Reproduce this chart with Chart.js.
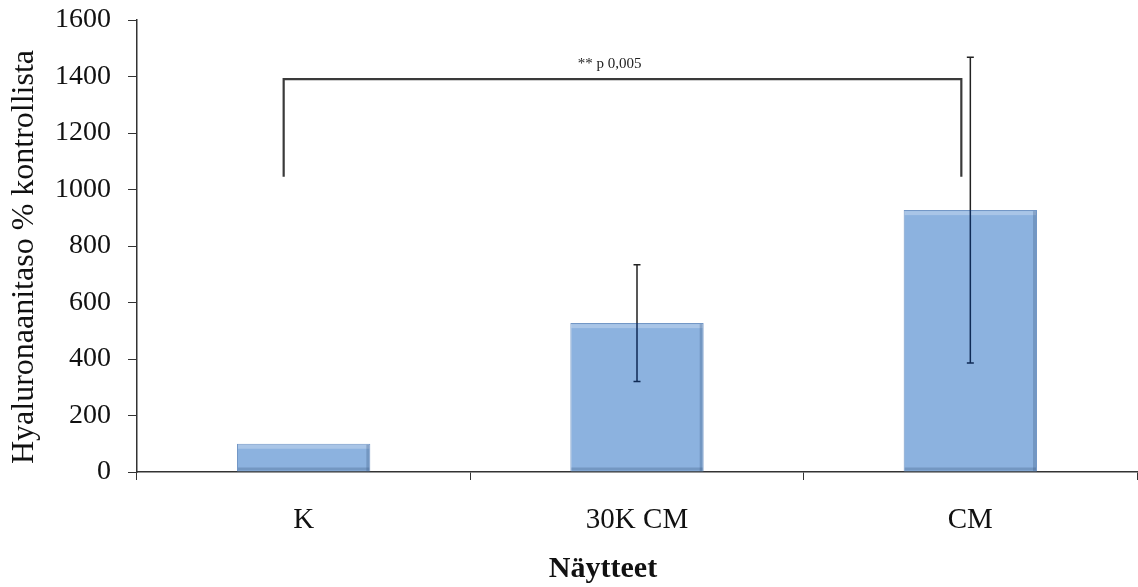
<!DOCTYPE html>
<html>
<head>
<meta charset="utf-8">
<script src="https://cdn.jsdelivr.net/npm/chart.js@4"></script>
<style>
  html, body { margin: 0; padding: 0; background: #ffffff; }
  #wrap { width: 1138px; height: 587px; }
</style>
</head>
<body>
<div id="wrap"><canvas id="c" width="1138" height="587"></canvas></div>
<script>
// ---- data ----
const categories = ['K', '30K CM', 'CM'];
const means = [100, 527, 927];
const errors = [0, 207, 541];
const yTicks = [0, 200, 400, 600, 800, 1000, 1200, 1400, 1600];
const yTitle = 'Hyaluronaanitaso % kontrollista';
const xTitle = 'Näytteet';
// significance bracket: category positions and value levels
const bracketX = [-0.06, 1.973];
const bracketY = [1045, 1391];
const bracketLabel = '** p 0,005';
const bracketLabelPos = [0.918, 1430];

const serif = '"Liberation Serif", "Times New Roman", serif';

const errorBarPlugin = {
  id: 'errorBars',
  afterDatasetsDraw(chart) {
    const ctx = chart.ctx;
    const meta = chart.getDatasetMeta(0);
    const y = chart.scales.y;
    // bevel on bars
    meta.data.forEach((bar) => {
      const l = bar.x - bar.width / 2, r = bar.x + bar.width / 2;
      const t = bar.y, b = bar.base;
      ctx.save();
      ctx.fillStyle = 'rgba(255,255,255,0.25)';
      ctx.fillRect(l + 1, t + 1, r - l - 2, 4);
      ctx.fillStyle = 'rgba(60,90,130,0.3)';
      ctx.fillRect(r - 4, t + 1, 3, b - t - 1);
      ctx.fillRect(l + 1, b - 4, r - l - 2, 3);
      ctx.restore();
    });
    meta.data.forEach((bar, i) => {
      const e = errors[i];
      if (!e) return;
      const x = bar.x;
      const yTop = y.getPixelForValue(means[i] + e);
      const yBot = y.getPixelForValue(means[i] - e);
      const yMid = y.getPixelForValue(means[i]);
      ctx.save();
      ctx.lineWidth = 1.5;
      ctx.strokeStyle = '#222';
      ctx.beginPath();
      ctx.moveTo(x, yTop); ctx.lineTo(x, yMid);
      ctx.moveTo(x - 3.5, yTop); ctx.lineTo(x + 3.5, yTop);
      ctx.stroke();
      ctx.strokeStyle = '#0f2a55';
      ctx.beginPath();
      ctx.moveTo(x, yMid); ctx.lineTo(x, yBot);
      ctx.moveTo(x - 3.5, yBot); ctx.lineTo(x + 3.5, yBot);
      ctx.stroke();
      ctx.restore();
    });
    // bracket
    const xs = chart.scales.x;
    const x1 = xs.getPixelForValue(bracketX[0]);
    const x2 = xs.getPixelForValue(bracketX[1]);
    const yb = y.getPixelForValue(bracketY[0]);
    const yt = y.getPixelForValue(bracketY[1]);
    ctx.save();
    ctx.strokeStyle = '#3a3a3a';
    ctx.lineWidth = 2.2;
    ctx.beginPath();
    ctx.moveTo(x1, yb); ctx.lineTo(x1, yt); ctx.lineTo(x2, yt); ctx.lineTo(x2, yb);
    ctx.stroke();
    ctx.fillStyle = '#222';
    ctx.font = '15px ' + serif;
    ctx.textAlign = 'center';
    ctx.textBaseline = 'alphabetic';
    ctx.fillText(bracketLabel, xs.getPixelForValue(bracketLabelPos[0]), y.getPixelForValue(bracketLabelPos[1]));
    // x axis title
    ctx.font = 'bold 30px ' + serif;
    ctx.fillStyle = '#111';
    ctx.fillText(xTitle, 603, 577);
    // y axis title
    ctx.translate(25, 257);
    ctx.rotate(-Math.PI / 2);
    ctx.font = '32px ' + serif;
    ctx.textBaseline = 'middle';
    ctx.fillText(yTitle, 0, 0);
    ctx.restore();
  }
};

new Chart(document.getElementById('c'), {
  type: 'bar',
  data: {
    labels: categories,
    datasets: [{
      data: means,
      backgroundColor: '#8CB2DF',
      borderColor: '#7397C6',
      borderWidth: 1,
      barPercentage: 0.4,
      categoryPercentage: 1.0
    }]
  },
  options: {
    responsive: false,
    animation: false,
    devicePixelRatio: 1,
    layout: { padding: { top: 20, right: 1, left: 0, bottom: 0 } },
    plugins: { legend: { display: false }, tooltip: { enabled: false } },
    scales: {
      x: {
        grid: { display: true, drawOnChartArea: false, offset: true, tickLength: 8, color: '#333', lineWidth: 1 },
        border: { display: true, color: '#333', width: 1.5 },
        ticks: { color: '#111', font: { family: serif, size: 29 }, padding: 23, maxRotation: 0 },
        afterFit(scale) { scale.height = 115; scale.paddingLeft = 0; scale.paddingRight = 0; }
      },
      y: {
        min: 0, max: 1600,
        afterBuildTicks(scale) { scale.ticks = yTicks.map(v => ({ value: v })); },
        grid: { display: true, drawOnChartArea: false, tickLength: 9, color: '#333', lineWidth: 1 },
        border: { display: true, color: '#333', width: 1.5 },
        ticks: { color: '#111', font: { family: serif, size: 28 }, padding: 17, callback: (v) => String(v) },
        title: { display: false },
        afterFit(scale) { scale.width = 137; scale.paddingTop = 0; scale.paddingBottom = 0; }
      }
    }
  },
  plugins: [errorBarPlugin]
});
</script>
</body>
</html>
